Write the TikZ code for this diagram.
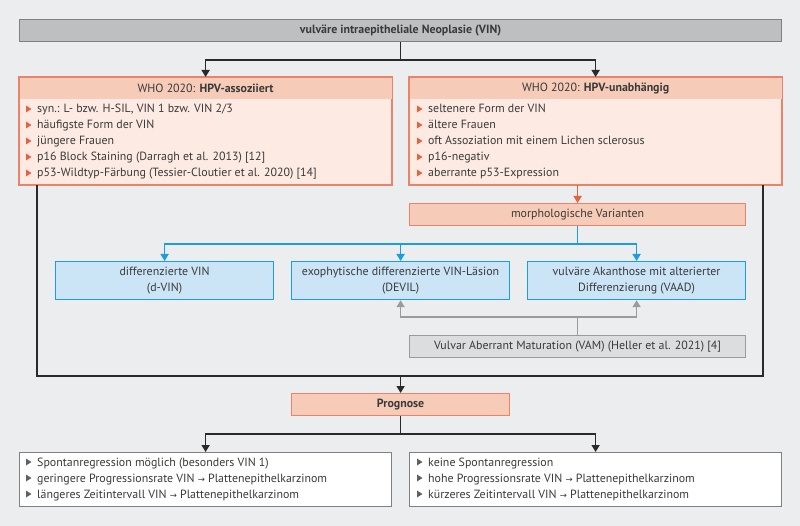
\documentclass[tikz,border=0pt]{standalone}
\usepackage{fontspec}
\setmainfont{PT Sans}
\newfontfamily\arrfont{DejaVu Sans}
\usetikzlibrary{arrows.meta,calc}
\definecolor{bg}{HTML}{ECEDEF}
\definecolor{txt}{HTML}{3A3A3A}
\definecolor{topfill}{HTML}{BEBFC1}
\definecolor{topdraw}{HTML}{7F8082}
\definecolor{ohead}{HTML}{F6CBB7}
\definecolor{obody}{HTML}{FDEAE2}
\definecolor{odraw}{HTML}{E9836A}
\definecolor{obul}{HTML}{E8623F}
\definecolor{bfill}{HTML}{CBE4F6}
\definecolor{bdraw}{HTML}{1E9CE2}
\definecolor{gfill}{HTML}{DCDDDF}
\definecolor{gdraw}{HTML}{9A9B9D}
\definecolor{blk}{HTML}{2A2A2A}
\newcommand{\ra}{{\arrfont\fontsize{8.5}{8.5}\selectfont →}}
\newcommand{\fs}{\fontsize{11.9}{16}\selectfont}
\begin{document}
\begin{tikzpicture}[x=1pt,y=-1pt,
  every node/.style={text=txt,font=\fs},
  boxbase/.style={rectangle,inner sep=0,anchor=north west},
  topbox/.style={boxbase,fill=topfill,draw=topdraw,line width=1.2pt},
  obox/.style={boxbase,fill=obody,draw=odraw,line width=1.2pt},
  mbox/.style={boxbase,fill=ohead,draw=odraw,line width=1.2pt},
  bluebox/.style={boxbase,fill=bfill,draw=bdraw,line width=1.2pt,align=center},
  graybox/.style={boxbase,fill=gfill,draw=gdraw,line width=1.2pt},
  whitebox/.style={boxbase,fill=white,draw=topdraw,line width=1.2pt},
  item/.style={anchor=base west,inner sep=0},
  tip/.style={-{Triangle[width=8pt,length=7pt]}},
  blkarr/.style={tip,draw=blk,line width=1.6pt},
  blkline/.style={draw=blk,line width=1.6pt},
  orarr/.style={tip,draw=obul,line width=1.5pt},
  bluarr/.style={tip,draw=bdraw,line width=1.6pt},
  graarr/.style={tip,draw=gdraw,line width=1.6pt},
]
\fill[bg] (0,0) rectangle (800,526);
\useasboundingbox (0,0) rectangle (800,526);

% top
\node[topbox,minimum width=762pt,minimum height=22pt] (top) at (19,19) {};
\node[font=\bfseries\fs] (toptxt) at (top.center) {vulväre intraepitheliale Neoplasie (VIN)};

% orange boxes
\node[obox,minimum width=372pt,minimum height=107pt] (L) at (19,77) {};
\node[obox,minimum width=372pt,minimum height=107pt] (R) at (409,77) {};
\fill[ohead] ([shift={(0.5pt,-0.5pt)}]L.north west) rectangle ([shift={(-0.5pt,-22pt)}]L.north east);
\fill[ohead] ([shift={(0.5pt,-0.5pt)}]R.north west) rectangle ([shift={(-0.5pt,-22pt)}]R.north east);
\draw[odraw,line width=1.2pt] (L.north west) rectangle (L.south east);
\draw[odraw,line width=1.2pt] (R.north west) rectangle (R.south east);
\node (Lh) at ($(L.north)+(0,11)$) {WHO 2020: \textbf{HPV-assoziiert}};
\node (Rh) at ($(R.north)+(0,11)$) {WHO 2020: \textbf{HPV-unabhängig}};

\foreach \t [count=\i] in {{syn.: L- bzw. H-SIL, VIN 1 bzw. VIN 2/3},{häufigste Form der VIN},{jüngere Frauen},{p16 Block Staining (Darragh et al. 2013) [12]},{p53-Wildtyp-Färbung (Tessier-Cloutier et al. 2020) [14]}}{
  \fill[obul] (26,{105.5+16*(\i-1)}) -- (31.5,{109+16*(\i-1)}) -- (26,{112.5+16*(\i-1)}) -- cycle;
  \node[item] (Lt\i) at (37,{113+16*(\i-1)}) {\t};
}
\foreach \t [count=\i] in {{seltenere Form der VIN},{ältere Frauen},{oft Assoziation mit einem Lichen sclerosus},{p16-negativ},{aberrante p53-Expression}}{
  \fill[obul] (417,{105.5+16*(\i-1)}) -- (422.5,{109+16*(\i-1)}) -- (417,{112.5+16*(\i-1)}) -- cycle;
  \node[item] (Rt\i) at (428,{113+16*(\i-1)}) {\t};
}

% morph
\node[mbox,minimum width=336pt,minimum height=22pt] (morph) at (409,203) {};
\node (morphtxt) at (morph.center) {morphologische Varianten};

% blue boxes
\node[bluebox,minimum width=218pt,minimum height=38pt] (b1) at (55,261) {};
\node[bluebox,minimum width=218pt,minimum height=38pt] (b2) at (291,261) {};
\node[bluebox,minimum width=218pt,minimum height=38pt] (b3) at (527,261) {};
\node[align=center] (b1t) at (b1.center) {differenzierte VIN\\(d-VIN)};
\node[align=center] (b2t) at (b2.center) {exophytische differenzierte VIN-Läsion\\(DEVIL)};
\node[align=center] (b3t) at (b3.center) {vulväre Akanthose mit alterierter\\Differenzierung (VAAD)};

% VAM
\node[graybox,minimum width=336pt,minimum height=22pt] (vam) at (409,335) {};
\node (vamtxt) at (vam.center) {Vulvar Aberrant Maturation (VAM) (Heller et al. 2021) [4]};

% Prognose
\node[mbox,minimum width=218pt,minimum height=22pt] (prog) at (291,393) {};
\node[font=\bfseries\fs] (progtxt) at (prog.center) {Prognose};

% bottom boxes
\node[whitebox,minimum width=372pt,minimum height=54pt] (PL) at (19,452) {};
\node[whitebox,minimum width=372pt,minimum height=54pt] (PR) at (409,452) {};
\foreach \t [count=\i] in {{Spontanregression möglich (besonders VIN 1)},{geringere Progressionsrate VIN \ra{} Plattenepithelkarzinom},{längeres Zeitintervall VIN \ra{} Plattenepithelkarzinom}}{
  \fill[txt!80] (26,{458.5+16*(\i-1)}) -- (31.5,{462+16*(\i-1)}) -- (26,{465.5+16*(\i-1)}) -- cycle;
  \node[item] (PLt\i) at (37,{466+16*(\i-1)}) {\t};
}
\foreach \t [count=\i] in {{keine Spontanregression},{hohe Progressionsrate VIN \ra{} Plattenepithelkarzinom},{kürzeres Zeitintervall VIN \ra{} Plattenepithelkarzinom}}{
  \fill[txt!80] (417,{458.5+16*(\i-1)}) -- (422.5,{462+16*(\i-1)}) -- (417,{465.5+16*(\i-1)}) -- cycle;
  \node[item] (PRt\i) at (428,{466+16*(\i-1)}) {\t};
}

% connectors
\draw[blkarr] (top.south) -- ++(0,18) -| (L.north);
\draw[blkarr] (top.south) -- ++(0,18) -| (R.north);
\draw[orarr] (morph.north |- R.south) -- (morph.north);
\coordinate (bj) at ($(morph.south)+(0,18)$);
\draw[bluarr] (morph.south) -- (bj) -| (b1.north);
\draw[bluarr] (bj) -| (b3.north);
\draw[bluarr] (b2.north |- bj) -- (b2.north);
\coordinate (gj) at ($(vam.north)+(0,-18)$);
\draw[graarr] (vam.north) -- (gj) -| (b3.south);
\draw[graarr] (gj) -| (b2.south);
\coordinate (pj) at ($(prog.north)+(0,-17)$);
\draw[blkline] ([xshift=18pt]L.south west) |- (pj);
\draw[blkline] ([xshift=-19pt]R.south east) |- (pj);
\draw[blkarr] (pj) -- (prog.north);
\draw[blkarr] (prog.south) -- ++(0,18) -| (PL.north);
\draw[blkarr] (prog.south) -- ++(0,18) -| (PR.north);
\end{tikzpicture}
\end{document}
